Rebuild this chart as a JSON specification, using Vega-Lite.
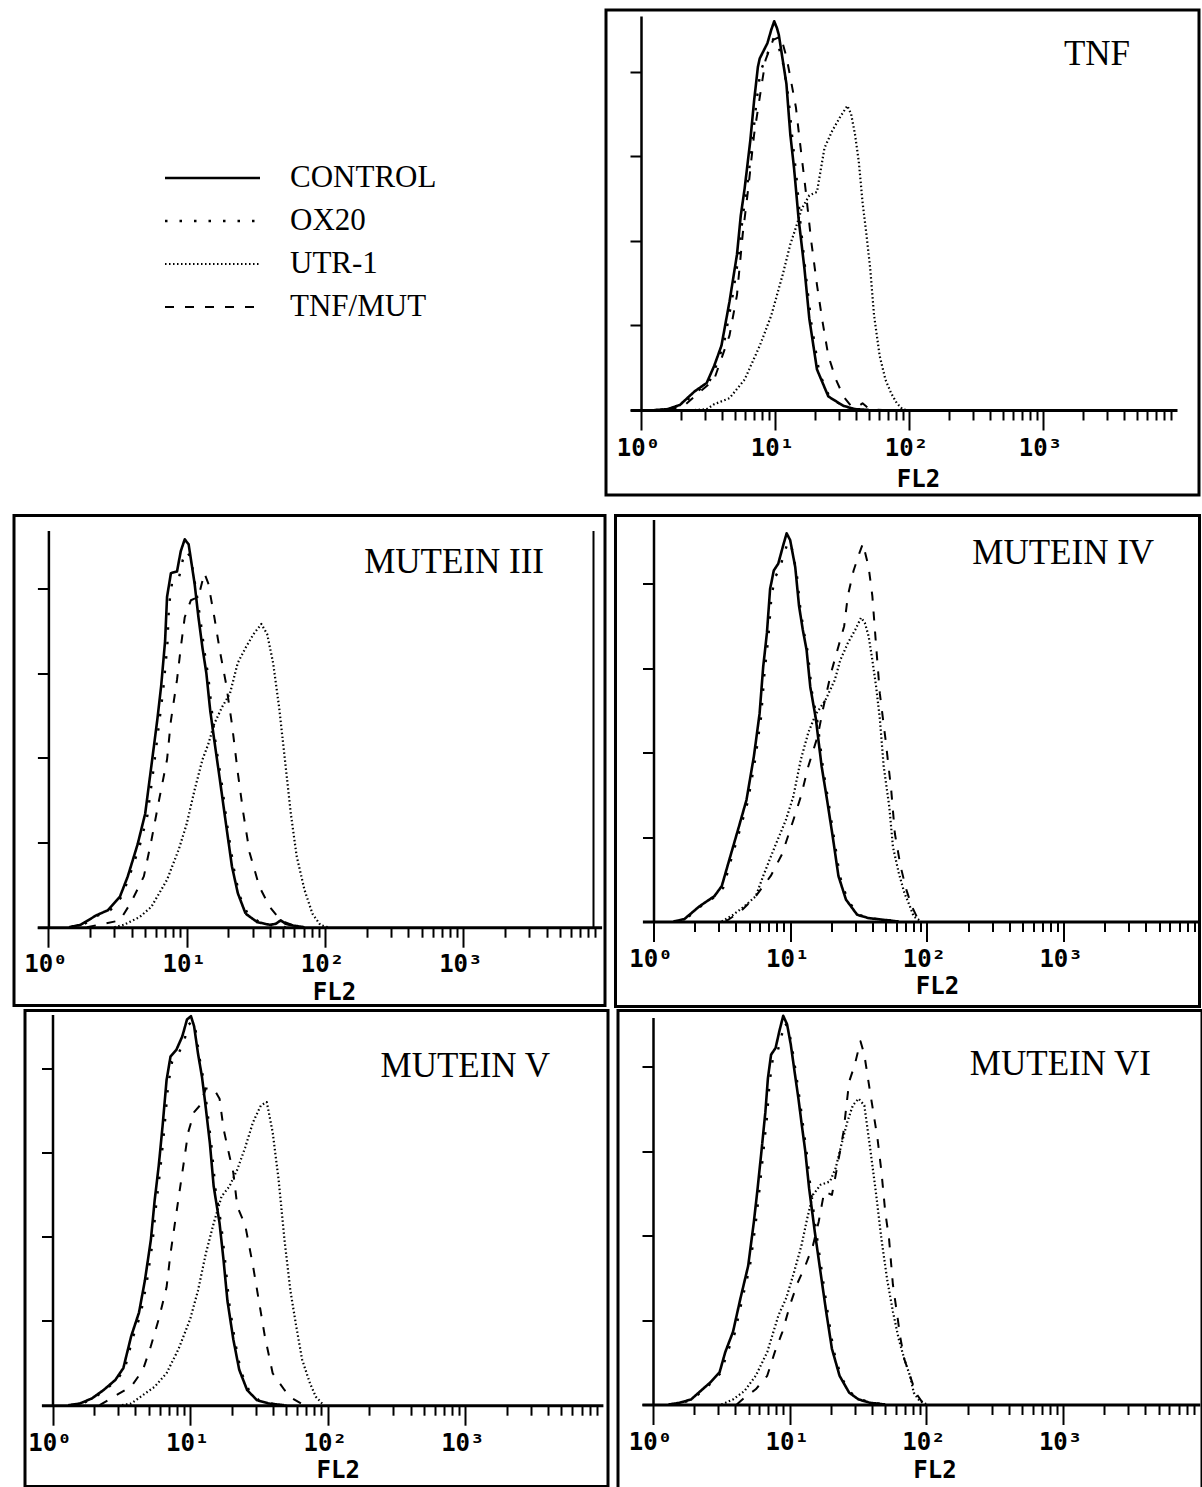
{
"$schema": "https://vega.github.io/schema/vega-lite/v6.json",
"background": "white",
"padding": {"left": 12, "top": 8, "right": 0, "bottom": 0},
"config": {
  "view": {"stroke": null},
  "legend": {"orient": "none", "legendX": 183, "legendY": 152.5, "padding": 0, "symbolType": "M-4.75,0L4.75,0", "symbolSize": 400, "symbolStrokeWidth": 2, "symbolStrokeColor": "black", "symbolFillColor": "transparent", "labelFont": "Liberation Serif", "labelFontSize": 31, "labelColor": "black", "labelOffset": 62, "rowPadding": 11, "labelLimit": 0}
},
"datasets": {"curves": [
{"p":"TNF","s":"CONTROL","x":1.26,"y":0},{"p":"TNF","s":"CONTROL","x":1.58,"y":0.5},{"p":"TNF","s":"CONTROL","x":1.95,"y":3},{"p":"TNF","s":"CONTROL","x":2.51,"y":11},{"p":"TNF","s":"CONTROL","x":3.09,"y":16},{"p":"TNF","s":"CONTROL","x":3.51,"y":26},{"p":"TNF","s":"CONTROL","x":3.98,"y":38},{"p":"TNF","s":"CONTROL","x":4.57,"y":64},{"p":"TNF","s":"CONTROL","x":5.2,"y":92},{"p":"TNF","s":"CONTROL","x":5.55,"y":115},{"p":"TNF","s":"CONTROL","x":5.93,"y":131},{"p":"TNF","s":"CONTROL","x":6.53,"y":159},{"p":"TNF","s":"CONTROL","x":6.98,"y":183},{"p":"TNF","s":"CONTROL","x":7.45,"y":203},{"p":"TNF","s":"CONTROL","x":7.69,"y":208},{"p":"TNF","s":"CONTROL","x":8.77,"y":217},{"p":"TNF","s":"CONTROL","x":9.38,"y":225},{"p":"TNF","s":"CONTROL","x":9.86,"y":230},{"p":"TNF","s":"CONTROL","x":10.33,"y":226},{"p":"TNF","s":"CONTROL","x":10.67,"y":222},{"p":"TNF","s":"CONTROL","x":12.16,"y":193},{"p":"TNF","s":"CONTROL","x":13.0,"y":163},{"p":"TNF","s":"CONTROL","x":13.87,"y":143},{"p":"TNF","s":"CONTROL","x":15.0,"y":113},{"p":"TNF","s":"CONTROL","x":16.56,"y":84},{"p":"TNF","s":"CONTROL","x":18.03,"y":54},{"p":"TNF","s":"CONTROL","x":20.56,"y":24},{"p":"TNF","s":"CONTROL","x":25.0,"y":8},{"p":"TNF","s":"CONTROL","x":32.43,"y":2.4},{"p":"TNF","s":"CONTROL","x":39.81,"y":0.5},{"p":"TNF","s":"CONTROL","x":50.12,"y":0},
{"p":"TNF","s":"OX20","x":1.41,"y":0},{"p":"TNF","s":"OX20","x":2.0,"y":3},{"p":"TNF","s":"OX20","x":2.63,"y":11},{"p":"TNF","s":"OX20","x":3.24,"y":17},{"p":"TNF","s":"OX20","x":3.72,"y":28},{"p":"TNF","s":"OX20","x":4.17,"y":40},{"p":"TNF","s":"OX20","x":4.79,"y":66},{"p":"TNF","s":"OX20","x":5.37,"y":92},{"p":"TNF","s":"OX20","x":5.75,"y":115},{"p":"TNF","s":"OX20","x":6.17,"y":131},{"p":"TNF","s":"OX20","x":6.76,"y":158},{"p":"TNF","s":"OX20","x":7.24,"y":181},{"p":"TNF","s":"OX20","x":7.76,"y":200},{"p":"TNF","s":"OX20","x":8.91,"y":212},{"p":"TNF","s":"OX20","x":9.77,"y":220},{"p":"TNF","s":"OX20","x":10.72,"y":214},{"p":"TNF","s":"OX20","x":11.48,"y":205},{"p":"TNF","s":"OX20","x":12.59,"y":185},{"p":"TNF","s":"OX20","x":13.49,"y":160},{"p":"TNF","s":"OX20","x":14.45,"y":138},{"p":"TNF","s":"OX20","x":15.49,"y":110},{"p":"TNF","s":"OX20","x":16.98,"y":80},{"p":"TNF","s":"OX20","x":18.62,"y":52},{"p":"TNF","s":"OX20","x":21.38,"y":22},{"p":"TNF","s":"OX20","x":25.7,"y":7},{"p":"TNF","s":"OX20","x":33.11,"y":2},{"p":"TNF","s":"OX20","x":41.69,"y":0},
{"p":"TNF","s":"TNF/MUT","x":1.58,"y":0},{"p":"TNF","s":"TNF/MUT","x":2.08,"y":2.4},{"p":"TNF","s":"TNF/MUT","x":3.51,"y":18},{"p":"TNF","s":"TNF/MUT","x":4.57,"y":44},{"p":"TNF","s":"TNF/MUT","x":5.2,"y":68},{"p":"TNF","s":"TNF/MUT","x":5.74,"y":104},{"p":"TNF","s":"TNF/MUT","x":6.31,"y":131},{"p":"TNF","s":"TNF/MUT","x":6.98,"y":163},{"p":"TNF","s":"TNF/MUT","x":7.69,"y":185},{"p":"TNF","s":"TNF/MUT","x":8.49,"y":207},{"p":"TNF","s":"TNF/MUT","x":9.68,"y":219},{"p":"TNF","s":"TNF/MUT","x":11.04,"y":221},{"p":"TNF","s":"TNF/MUT","x":12.16,"y":209},{"p":"TNF","s":"TNF/MUT","x":13.0,"y":197},{"p":"TNF","s":"TNF/MUT","x":14.32,"y":179},{"p":"TNF","s":"TNF/MUT","x":15.31,"y":159},{"p":"TNF","s":"TNF/MUT","x":16.87,"y":131},{"p":"TNF","s":"TNF/MUT","x":18.62,"y":100},{"p":"TNF","s":"TNF/MUT","x":20.56,"y":74},{"p":"TNF","s":"TNF/MUT","x":22.65,"y":52},{"p":"TNF","s":"TNF/MUT","x":25.0,"y":32},{"p":"TNF","s":"TNF/MUT","x":28.51,"y":18},{"p":"TNF","s":"TNF/MUT","x":32.43,"y":8},{"p":"TNF","s":"TNF/MUT","x":36.98,"y":2.4},{"p":"TNF","s":"TNF/MUT","x":41.69,"y":2},{"p":"TNF","s":"TNF/MUT","x":44.98,"y":4},{"p":"TNF","s":"TNF/MUT","x":48.08,"y":2},{"p":"TNF","s":"TNF/MUT","x":51.29,"y":0.4},{"p":"TNF","s":"TNF/MUT","x":63.1,"y":0},
{"p":"TNF","s":"UTR-1","x":2.51,"y":0},{"p":"TNF","s":"UTR-1","x":3.08,"y":0.4},{"p":"TNF","s":"UTR-1","x":3.51,"y":3.4},{"p":"TNF","s":"UTR-1","x":4.57,"y":7},{"p":"TNF","s":"UTR-1","x":5.93,"y":18},{"p":"TNF","s":"UTR-1","x":7.69,"y":38},{"p":"TNF","s":"UTR-1","x":9.38,"y":56},{"p":"TNF","s":"UTR-1","x":11.4,"y":80},{"p":"TNF","s":"UTR-1","x":13.0,"y":98},{"p":"TNF","s":"UTR-1","x":14.32,"y":108},{"p":"TNF","s":"UTR-1","x":15.81,"y":119},{"p":"TNF","s":"UTR-1","x":18.03,"y":127},{"p":"TNF","s":"UTR-1","x":20.56,"y":129},{"p":"TNF","s":"UTR-1","x":23.39,"y":155},{"p":"TNF","s":"UTR-1","x":26.67,"y":165},{"p":"TNF","s":"UTR-1","x":30.41,"y":173},{"p":"TNF","s":"UTR-1","x":34.67,"y":180},{"p":"TNF","s":"UTR-1","x":36.98,"y":175},{"p":"TNF","s":"UTR-1","x":39.54,"y":163},{"p":"TNF","s":"UTR-1","x":42.17,"y":147},{"p":"TNF","s":"UTR-1","x":44.98,"y":123},{"p":"TNF","s":"UTR-1","x":48.08,"y":104},{"p":"TNF","s":"UTR-1","x":51.29,"y":84},{"p":"TNF","s":"UTR-1","x":54.83,"y":56},{"p":"TNF","s":"UTR-1","x":60.39,"y":32},{"p":"TNF","s":"UTR-1","x":66.68,"y":18},{"p":"TNF","s":"UTR-1","x":73.45,"y":10},{"p":"TNF","s":"UTR-1","x":81.1,"y":4},{"p":"TNF","s":"UTR-1","x":89.54,"y":0.4},{"p":"TNF","s":"UTR-1","x":97.72,"y":0},

{"p":"III","s":"CONTROL","x":1.41,"y":0},{"p":"III","s":"CONTROL","x":1.71,"y":1.4},{"p":"III","s":"CONTROL","x":2.22,"y":7},{"p":"III","s":"CONTROL","x":2.69,"y":10},{"p":"III","s":"CONTROL","x":3.29,"y":18},{"p":"III","s":"CONTROL","x":3.75,"y":30},{"p":"III","s":"CONTROL","x":4.42,"y":49},{"p":"III","s":"CONTROL","x":5.01,"y":67},{"p":"III","s":"CONTROL","x":5.55,"y":95},{"p":"III","s":"CONTROL","x":6.12,"y":122},{"p":"III","s":"CONTROL","x":6.53,"y":142},{"p":"III","s":"CONTROL","x":6.98,"y":169},{"p":"III","s":"CONTROL","x":7.21,"y":195},{"p":"III","s":"CONTROL","x":7.69,"y":209},{"p":"III","s":"CONTROL","x":8.51,"y":210},{"p":"III","s":"CONTROL","x":9.06,"y":222},{"p":"III","s":"CONTROL","x":9.68,"y":229},{"p":"III","s":"CONTROL","x":10.33,"y":226},{"p":"III","s":"CONTROL","x":11.4,"y":203},{"p":"III","s":"CONTROL","x":12.16,"y":183},{"p":"III","s":"CONTROL","x":13.0,"y":165},{"p":"III","s":"CONTROL","x":13.87,"y":150},{"p":"III","s":"CONTROL","x":14.79,"y":128},{"p":"III","s":"CONTROL","x":15.85,"y":110},{"p":"III","s":"CONTROL","x":17.38,"y":87},{"p":"III","s":"CONTROL","x":19.23,"y":61},{"p":"III","s":"CONTROL","x":21.23,"y":36},{"p":"III","s":"CONTROL","x":23.44,"y":20},{"p":"III","s":"CONTROL","x":26.67,"y":8},{"p":"III","s":"CONTROL","x":32.36,"y":3},{"p":"III","s":"CONTROL","x":39.81,"y":1.4},{"p":"III","s":"CONTROL","x":44.0,"y":2},{"p":"III","s":"CONTROL","x":47.86,"y":4},{"p":"III","s":"CONTROL","x":52.0,"y":2},{"p":"III","s":"CONTROL","x":58.88,"y":1},{"p":"III","s":"CONTROL","x":70.79,"y":0},
{"p":"III","s":"OX20","x":1.45,"y":0},{"p":"III","s":"OX20","x":1.78,"y":1.4},{"p":"III","s":"OX20","x":2.29,"y":7},{"p":"III","s":"OX20","x":2.8,"y":10},{"p":"III","s":"OX20","x":3.39,"y":18},{"p":"III","s":"OX20","x":3.85,"y":30},{"p":"III","s":"OX20","x":4.57,"y":48},{"p":"III","s":"OX20","x":5.2,"y":66},{"p":"III","s":"OX20","x":5.75,"y":93},{"p":"III","s":"OX20","x":6.31,"y":120},{"p":"III","s":"OX20","x":6.76,"y":140},{"p":"III","s":"OX20","x":7.24,"y":166},{"p":"III","s":"OX20","x":7.45,"y":190},{"p":"III","s":"OX20","x":7.89,"y":205},{"p":"III","s":"OX20","x":8.83,"y":207},{"p":"III","s":"OX20","x":9.38,"y":217},{"p":"III","s":"OX20","x":10.0,"y":222},{"p":"III","s":"OX20","x":10.72,"y":218},{"p":"III","s":"OX20","x":11.64,"y":200},{"p":"III","s":"OX20","x":12.59,"y":181},{"p":"III","s":"OX20","x":13.43,"y":163},{"p":"III","s":"OX20","x":14.32,"y":148},{"p":"III","s":"OX20","x":15.28,"y":126},{"p":"III","s":"OX20","x":16.22,"y":108},{"p":"III","s":"OX20","x":17.91,"y":85},{"p":"III","s":"OX20","x":19.72,"y":59},{"p":"III","s":"OX20","x":21.88,"y":35},{"p":"III","s":"OX20","x":24.0,"y":19},{"p":"III","s":"OX20","x":27.54,"y":8},{"p":"III","s":"OX20","x":33.5,"y":3},{"p":"III","s":"OX20","x":41.69,"y":1},{"p":"III","s":"OX20","x":52.0,"y":0},
{"p":"III","s":"TNF/MUT","x":1.9,"y":0},{"p":"III","s":"TNF/MUT","x":3.29,"y":4},{"p":"III","s":"TNF/MUT","x":3.98,"y":15},{"p":"III","s":"TNF/MUT","x":4.9,"y":30},{"p":"III","s":"TNF/MUT","x":5.55,"y":51},{"p":"III","s":"TNF/MUT","x":6.31,"y":75},{"p":"III","s":"TNF/MUT","x":7.21,"y":99},{"p":"III","s":"TNF/MUT","x":7.69,"y":122},{"p":"III","s":"TNF/MUT","x":8.51,"y":146},{"p":"III","s":"TNF/MUT","x":9.06,"y":165},{"p":"III","s":"TNF/MUT","x":9.68,"y":183},{"p":"III","s":"TNF/MUT","x":10.72,"y":193},{"p":"III","s":"TNF/MUT","x":12.16,"y":195},{"p":"III","s":"TNF/MUT","x":13.43,"y":209},{"p":"III","s":"TNF/MUT","x":14.32,"y":203},{"p":"III","s":"TNF/MUT","x":15.85,"y":183},{"p":"III","s":"TNF/MUT","x":17.38,"y":163},{"p":"III","s":"TNF/MUT","x":19.23,"y":144},{"p":"III","s":"TNF/MUT","x":21.23,"y":120},{"p":"III","s":"TNF/MUT","x":23.44,"y":91},{"p":"III","s":"TNF/MUT","x":25.7,"y":67},{"p":"III","s":"TNF/MUT","x":28.51,"y":44},{"p":"III","s":"TNF/MUT","x":33.5,"y":24},{"p":"III","s":"TNF/MUT","x":39.81,"y":12},{"p":"III","s":"TNF/MUT","x":47.86,"y":4},{"p":"III","s":"TNF/MUT","x":58.88,"y":1},{"p":"III","s":"TNF/MUT","x":70.79,"y":0},
{"p":"III","s":"UTR-1","x":3.0,"y":0},{"p":"III","s":"UTR-1","x":3.51,"y":1.4},{"p":"III","s":"UTR-1","x":4.57,"y":6},{"p":"III","s":"UTR-1","x":5.55,"y":12},{"p":"III","s":"UTR-1","x":7.21,"y":28},{"p":"III","s":"UTR-1","x":8.77,"y":46},{"p":"III","s":"UTR-1","x":10.0,"y":61},{"p":"III","s":"UTR-1","x":11.4,"y":81},{"p":"III","s":"UTR-1","x":13.0,"y":99},{"p":"III","s":"UTR-1","x":14.32,"y":108},{"p":"III","s":"UTR-1","x":15.81,"y":120},{"p":"III","s":"UTR-1","x":18.03,"y":130},{"p":"III","s":"UTR-1","x":20.56,"y":138},{"p":"III","s":"UTR-1","x":23.39,"y":156},{"p":"III","s":"UTR-1","x":26.67,"y":165},{"p":"III","s":"UTR-1","x":30.41,"y":173},{"p":"III","s":"UTR-1","x":34.67,"y":179},{"p":"III","s":"UTR-1","x":38.2,"y":173},{"p":"III","s":"UTR-1","x":42.17,"y":156},{"p":"III","s":"UTR-1","x":46.56,"y":130},{"p":"III","s":"UTR-1","x":51.29,"y":99},{"p":"III","s":"UTR-1","x":56.62,"y":67},{"p":"III","s":"UTR-1","x":62.37,"y":42},{"p":"III","s":"UTR-1","x":71.1,"y":22},{"p":"III","s":"UTR-1","x":81.1,"y":8},{"p":"III","s":"UTR-1","x":92.47,"y":1.4},{"p":"III","s":"UTR-1","x":104.7,"y":0},

{"p":"IV","s":"CONTROL","x":1.4,"y":0},{"p":"IV","s":"CONTROL","x":1.68,"y":1.4},{"p":"IV","s":"CONTROL","x":2.17,"y":9},{"p":"IV","s":"CONTROL","x":2.79,"y":15},{"p":"IV","s":"CONTROL","x":3.16,"y":21},{"p":"IV","s":"CONTROL","x":3.6,"y":37},{"p":"IV","s":"CONTROL","x":4.21,"y":56},{"p":"IV","s":"CONTROL","x":4.79,"y":72},{"p":"IV","s":"CONTROL","x":5.43,"y":98},{"p":"IV","s":"CONTROL","x":5.97,"y":123},{"p":"IV","s":"CONTROL","x":6.35,"y":151},{"p":"IV","s":"CONTROL","x":6.76,"y":171},{"p":"IV","s":"CONTROL","x":7.13,"y":197},{"p":"IV","s":"CONTROL","x":7.59,"y":208},{"p":"IV","s":"CONTROL","x":8.18,"y":212},{"p":"IV","s":"CONTROL","x":8.83,"y":222},{"p":"IV","s":"CONTROL","x":9.42,"y":230},{"p":"IV","s":"CONTROL","x":10.0,"y":226},{"p":"IV","s":"CONTROL","x":10.89,"y":210},{"p":"IV","s":"CONTROL","x":11.61,"y":187},{"p":"IV","s":"CONTROL","x":12.36,"y":173},{"p":"IV","s":"CONTROL","x":13.18,"y":161},{"p":"IV","s":"CONTROL","x":14.03,"y":139},{"p":"IV","s":"CONTROL","x":15.42,"y":120},{"p":"IV","s":"CONTROL","x":16.98,"y":92},{"p":"IV","s":"CONTROL","x":18.62,"y":72},{"p":"IV","s":"CONTROL","x":20.5,"y":50},{"p":"IV","s":"CONTROL","x":22.54,"y":27},{"p":"IV","s":"CONTROL","x":25.59,"y":13},{"p":"IV","s":"CONTROL","x":30.9,"y":4},{"p":"IV","s":"CONTROL","x":37.5,"y":2},{"p":"IV","s":"CONTROL","x":48.31,"y":1},{"p":"IV","s":"CONTROL","x":62.2,"y":0},
{"p":"IV","s":"OX20","x":1.45,"y":0},{"p":"IV","s":"OX20","x":1.72,"y":1.4},{"p":"IV","s":"OX20","x":2.22,"y":9},{"p":"IV","s":"OX20","x":2.86,"y":15},{"p":"IV","s":"OX20","x":3.24,"y":20},{"p":"IV","s":"OX20","x":3.68,"y":36},{"p":"IV","s":"OX20","x":4.31,"y":55},{"p":"IV","s":"OX20","x":4.9,"y":71},{"p":"IV","s":"OX20","x":5.55,"y":96},{"p":"IV","s":"OX20","x":6.12,"y":121},{"p":"IV","s":"OX20","x":6.5,"y":148},{"p":"IV","s":"OX20","x":6.92,"y":168},{"p":"IV","s":"OX20","x":7.3,"y":193},{"p":"IV","s":"OX20","x":7.76,"y":204},{"p":"IV","s":"OX20","x":8.37,"y":209},{"p":"IV","s":"OX20","x":9.04,"y":218},{"p":"IV","s":"OX20","x":9.64,"y":225},{"p":"IV","s":"OX20","x":10.23,"y":222},{"p":"IV","s":"OX20","x":11.14,"y":207},{"p":"IV","s":"OX20","x":11.88,"y":185},{"p":"IV","s":"OX20","x":12.65,"y":171},{"p":"IV","s":"OX20","x":13.49,"y":159},{"p":"IV","s":"OX20","x":14.36,"y":137},{"p":"IV","s":"OX20","x":15.78,"y":119},{"p":"IV","s":"OX20","x":17.38,"y":91},{"p":"IV","s":"OX20","x":19.05,"y":71},{"p":"IV","s":"OX20","x":20.98,"y":49},{"p":"IV","s":"OX20","x":23.07,"y":27},{"p":"IV","s":"OX20","x":26.2,"y":13},{"p":"IV","s":"OX20","x":31.6,"y":4},{"p":"IV","s":"OX20","x":38.4,"y":2},{"p":"IV","s":"OX20","x":49.4,"y":1},{"p":"IV","s":"OX20","x":63.7,"y":0},
{"p":"IV","s":"UTR-1","x":3.16,"y":0},{"p":"IV","s":"UTR-1","x":3.83,"y":4},{"p":"IV","s":"UTR-1","x":4.63,"y":9},{"p":"IV","s":"UTR-1","x":5.6,"y":15},{"p":"IV","s":"UTR-1","x":6.35,"y":27},{"p":"IV","s":"UTR-1","x":7.69,"y":44},{"p":"IV","s":"UTR-1","x":9.29,"y":60},{"p":"IV","s":"UTR-1","x":10.54,"y":74},{"p":"IV","s":"UTR-1","x":11.97,"y":96},{"p":"IV","s":"UTR-1","x":13.58,"y":112},{"p":"IV","s":"UTR-1","x":15.42,"y":123},{"p":"IV","s":"UTR-1","x":18.07,"y":131},{"p":"IV","s":"UTR-1","x":21.18,"y":143},{"p":"IV","s":"UTR-1","x":23.28,"y":155},{"p":"IV","s":"UTR-1","x":26.42,"y":165},{"p":"IV","s":"UTR-1","x":29.99,"y":173},{"p":"IV","s":"UTR-1","x":33.0,"y":180},{"p":"IV","s":"UTR-1","x":35.16,"y":177},{"p":"IV","s":"UTR-1","x":37.5,"y":169},{"p":"IV","s":"UTR-1","x":39.9,"y":155},{"p":"IV","s":"UTR-1","x":42.56,"y":139},{"p":"IV","s":"UTR-1","x":45.29,"y":120},{"p":"IV","s":"UTR-1","x":48.31,"y":92},{"p":"IV","s":"UTR-1","x":53.09,"y":68},{"p":"IV","s":"UTR-1","x":56.5,"y":44},{"p":"IV","s":"UTR-1","x":62.2,"y":29},{"p":"IV","s":"UTR-1","x":68.39,"y":17},{"p":"IV","s":"UTR-1","x":75.16,"y":9},{"p":"IV","s":"UTR-1","x":80.1,"y":3},{"p":"IV","s":"UTR-1","x":91.0,"y":0},
{"p":"IV","s":"TNF/MUT","x":3.37,"y":0},{"p":"IV","s":"TNF/MUT","x":4.35,"y":6},{"p":"IV","s":"TNF/MUT","x":5.6,"y":15},{"p":"IV","s":"TNF/MUT","x":7.21,"y":27},{"p":"IV","s":"TNF/MUT","x":8.73,"y":40},{"p":"IV","s":"TNF/MUT","x":10.54,"y":60},{"p":"IV","s":"TNF/MUT","x":11.97,"y":74},{"p":"IV","s":"TNF/MUT","x":13.58,"y":92},{"p":"IV","s":"TNF/MUT","x":15.92,"y":110},{"p":"IV","s":"TNF/MUT","x":17.5,"y":127},{"p":"IV","s":"TNF/MUT","x":19.86,"y":147},{"p":"IV","s":"TNF/MUT","x":22.54,"y":163},{"p":"IV","s":"TNF/MUT","x":24.83,"y":175},{"p":"IV","s":"TNF/MUT","x":26.42,"y":193},{"p":"IV","s":"TNF/MUT","x":29.11,"y":208},{"p":"IV","s":"TNF/MUT","x":31.99,"y":218},{"p":"IV","s":"TNF/MUT","x":34.04,"y":224},{"p":"IV","s":"TNF/MUT","x":37.5,"y":210},{"p":"IV","s":"TNF/MUT","x":39.9,"y":193},{"p":"IV","s":"TNF/MUT","x":42.56,"y":163},{"p":"IV","s":"TNF/MUT","x":45.29,"y":135},{"p":"IV","s":"TNF/MUT","x":49.8,"y":108},{"p":"IV","s":"TNF/MUT","x":54.83,"y":78},{"p":"IV","s":"TNF/MUT","x":58.34,"y":52},{"p":"IV","s":"TNF/MUT","x":64.1,"y":33},{"p":"IV","s":"TNF/MUT","x":70.6,"y":19},{"p":"IV","s":"TNF/MUT","x":77.62,"y":9},{"p":"IV","s":"TNF/MUT","x":85.3,"y":2},{"p":"IV","s":"TNF/MUT","x":96.8,"y":0},

{"p":"V","s":"CONTROL","x":1.3,"y":0},{"p":"V","s":"CONTROL","x":1.58,"y":1},{"p":"V","s":"CONTROL","x":1.93,"y":4},{"p":"V","s":"CONTROL","x":2.35,"y":9},{"p":"V","s":"CONTROL","x":2.86,"y":15},{"p":"V","s":"CONTROL","x":3.27,"y":22},{"p":"V","s":"CONTROL","x":3.73,"y":41},{"p":"V","s":"CONTROL","x":4.25,"y":55},{"p":"V","s":"CONTROL","x":4.69,"y":74},{"p":"V","s":"CONTROL","x":5.18,"y":98},{"p":"V","s":"CONTROL","x":5.53,"y":122},{"p":"V","s":"CONTROL","x":5.91,"y":142},{"p":"V","s":"CONTROL","x":6.31,"y":166},{"p":"V","s":"CONTROL","x":6.74,"y":193},{"p":"V","s":"CONTROL","x":7.2,"y":207},{"p":"V","s":"CONTROL","x":7.94,"y":211},{"p":"V","s":"CONTROL","x":8.77,"y":219},{"p":"V","s":"CONTROL","x":9.49,"y":229},{"p":"V","s":"CONTROL","x":10.14,"y":231},{"p":"V","s":"CONTROL","x":10.69,"y":225},{"p":"V","s":"CONTROL","x":11.4,"y":209},{"p":"V","s":"CONTROL","x":12.19,"y":195},{"p":"V","s":"CONTROL","x":12.85,"y":180},{"p":"V","s":"CONTROL","x":13.9,"y":156},{"p":"V","s":"CONTROL","x":14.83,"y":130},{"p":"V","s":"CONTROL","x":16.37,"y":108},{"p":"V","s":"CONTROL","x":17.5,"y":86},{"p":"V","s":"CONTROL","x":18.67,"y":62},{"p":"V","s":"CONTROL","x":20.61,"y":39},{"p":"V","s":"CONTROL","x":22.75,"y":21},{"p":"V","s":"CONTROL","x":25.96,"y":9},{"p":"V","s":"CONTROL","x":30.6,"y":3},{"p":"V","s":"CONTROL","x":37.27,"y":1},{"p":"V","s":"CONTROL","x":48.53,"y":0},
{"p":"V","s":"OX20","x":1.35,"y":0},{"p":"V","s":"OX20","x":1.63,"y":1},{"p":"V","s":"OX20","x":1.98,"y":4},{"p":"V","s":"OX20","x":2.41,"y":9},{"p":"V","s":"OX20","x":2.94,"y":15},{"p":"V","s":"OX20","x":3.36,"y":22},{"p":"V","s":"OX20","x":3.83,"y":40},{"p":"V","s":"OX20","x":4.37,"y":54},{"p":"V","s":"OX20","x":4.82,"y":72},{"p":"V","s":"OX20","x":5.32,"y":96},{"p":"V","s":"OX20","x":5.68,"y":120},{"p":"V","s":"OX20","x":6.07,"y":140},{"p":"V","s":"OX20","x":6.49,"y":164},{"p":"V","s":"OX20","x":6.92,"y":190},{"p":"V","s":"OX20","x":7.4,"y":204},{"p":"V","s":"OX20","x":8.16,"y":208},{"p":"V","s":"OX20","x":9.02,"y":216},{"p":"V","s":"OX20","x":9.75,"y":226},{"p":"V","s":"OX20","x":10.42,"y":228},{"p":"V","s":"OX20","x":10.99,"y":222},{"p":"V","s":"OX20","x":11.72,"y":206},{"p":"V","s":"OX20","x":12.53,"y":193},{"p":"V","s":"OX20","x":13.2,"y":178},{"p":"V","s":"OX20","x":14.29,"y":154},{"p":"V","s":"OX20","x":15.24,"y":129},{"p":"V","s":"OX20","x":16.83,"y":107},{"p":"V","s":"OX20","x":17.99,"y":85},{"p":"V","s":"OX20","x":19.19,"y":61},{"p":"V","s":"OX20","x":21.18,"y":38},{"p":"V","s":"OX20","x":23.39,"y":20},{"p":"V","s":"OX20","x":26.7,"y":9},{"p":"V","s":"OX20","x":31.5,"y":3},{"p":"V","s":"OX20","x":38.3,"y":1},{"p":"V","s":"OX20","x":50.0,"y":0},
{"p":"V","s":"TNF/MUT","x":2.2,"y":0},{"p":"V","s":"TNF/MUT","x":3.06,"y":7},{"p":"V","s":"TNF/MUT","x":3.73,"y":11},{"p":"V","s":"TNF/MUT","x":4.54,"y":21},{"p":"V","s":"TNF/MUT","x":5.18,"y":35},{"p":"V","s":"TNF/MUT","x":5.91,"y":51},{"p":"V","s":"TNF/MUT","x":6.74,"y":70},{"p":"V","s":"TNF/MUT","x":7.2,"y":90},{"p":"V","s":"TNF/MUT","x":7.94,"y":114},{"p":"V","s":"TNF/MUT","x":8.77,"y":138},{"p":"V","s":"TNF/MUT","x":9.68,"y":162},{"p":"V","s":"TNF/MUT","x":10.69,"y":174},{"p":"V","s":"TNF/MUT","x":11.78,"y":178},{"p":"V","s":"TNF/MUT","x":13.0,"y":188},{"p":"V","s":"TNF/MUT","x":14.83,"y":188},{"p":"V","s":"TNF/MUT","x":16.37,"y":182},{"p":"V","s":"TNF/MUT","x":17.5,"y":164},{"p":"V","s":"TNF/MUT","x":19.32,"y":148},{"p":"V","s":"TNF/MUT","x":20.61,"y":138},{"p":"V","s":"TNF/MUT","x":22.03,"y":118},{"p":"V","s":"TNF/MUT","x":25.12,"y":107},{"p":"V","s":"TNF/MUT","x":28.6,"y":83},{"p":"V","s":"TNF/MUT","x":31.6,"y":62},{"p":"V","s":"TNF/MUT","x":34.9,"y":41},{"p":"V","s":"TNF/MUT","x":39.8,"y":19},{"p":"V","s":"TNF/MUT","x":48.53,"y":9},{"p":"V","s":"TNF/MUT","x":55.3,"y":4},{"p":"V","s":"TNF/MUT","x":67.4,"y":0},
{"p":"V","s":"UTR-1","x":3.2,"y":0},{"p":"V","s":"UTR-1","x":3.73,"y":1},{"p":"V","s":"UTR-1","x":4.54,"y":6},{"p":"V","s":"UTR-1","x":5.53,"y":11},{"p":"V","s":"UTR-1","x":6.74,"y":19},{"p":"V","s":"UTR-1","x":8.2,"y":33},{"p":"V","s":"UTR-1","x":10.0,"y":51},{"p":"V","s":"UTR-1","x":11.4,"y":68},{"p":"V","s":"UTR-1","x":13.0,"y":90},{"p":"V","s":"UTR-1","x":14.83,"y":108},{"p":"V","s":"UTR-1","x":16.93,"y":124},{"p":"V","s":"UTR-1","x":19.32,"y":130},{"p":"V","s":"UTR-1","x":22.03,"y":140},{"p":"V","s":"UTR-1","x":25.12,"y":153},{"p":"V","s":"UTR-1","x":28.64,"y":168},{"p":"V","s":"UTR-1","x":32.66,"y":178},{"p":"V","s":"UTR-1","x":36.06,"y":180},{"p":"V","s":"UTR-1","x":39.81,"y":162},{"p":"V","s":"UTR-1","x":43.95,"y":134},{"p":"V","s":"UTR-1","x":48.53,"y":98},{"p":"V","s":"UTR-1","x":53.55,"y":68},{"p":"V","s":"UTR-1","x":59.0,"y":47},{"p":"V","s":"UTR-1","x":65.2,"y":27},{"p":"V","s":"UTR-1","x":74.3,"y":13},{"p":"V","s":"UTR-1","x":82.0,"y":5},{"p":"V","s":"UTR-1","x":93.5,"y":0},

{"p":"VI","s":"CONTROL","x":1.3,"y":0},{"p":"VI","s":"CONTROL","x":1.57,"y":1},{"p":"VI","s":"CONTROL","x":1.9,"y":3},{"p":"VI","s":"CONTROL","x":2.16,"y":7},{"p":"VI","s":"CONTROL","x":2.62,"y":13},{"p":"VI","s":"CONTROL","x":3.07,"y":19},{"p":"VI","s":"CONTROL","x":3.38,"y":31},{"p":"VI","s":"CONTROL","x":3.85,"y":43},{"p":"VI","s":"CONTROL","x":4.37,"y":63},{"p":"VI","s":"CONTROL","x":4.97,"y":82},{"p":"VI","s":"CONTROL","x":5.47,"y":108},{"p":"VI","s":"CONTROL","x":5.83,"y":128},{"p":"VI","s":"CONTROL","x":6.22,"y":150},{"p":"VI","s":"CONTROL","x":6.64,"y":173},{"p":"VI","s":"CONTROL","x":6.93,"y":193},{"p":"VI","s":"CONTROL","x":7.31,"y":207},{"p":"VI","s":"CONTROL","x":7.89,"y":211},{"p":"VI","s":"CONTROL","x":8.41,"y":221},{"p":"VI","s":"CONTROL","x":8.97,"y":230},{"p":"VI","s":"CONTROL","x":9.57,"y":225},{"p":"VI","s":"CONTROL","x":10.19,"y":213},{"p":"VI","s":"CONTROL","x":10.86,"y":197},{"p":"VI","s":"CONTROL","x":11.59,"y":181},{"p":"VI","s":"CONTROL","x":12.19,"y":167},{"p":"VI","s":"CONTROL","x":13.0,"y":150},{"p":"VI","s":"CONTROL","x":13.87,"y":128},{"p":"VI","s":"CONTROL","x":15.28,"y":102},{"p":"VI","s":"CONTROL","x":16.83,"y":78},{"p":"VI","s":"CONTROL","x":18.49,"y":55},{"p":"VI","s":"CONTROL","x":20.37,"y":33},{"p":"VI","s":"CONTROL","x":23.17,"y":17},{"p":"VI","s":"CONTROL","x":27.23,"y":7},{"p":"VI","s":"CONTROL","x":31.92,"y":3},{"p":"VI","s":"CONTROL","x":38.73,"y":1},{"p":"VI","s":"CONTROL","x":50.0,"y":0},
{"p":"VI","s":"OX20","x":1.35,"y":0},{"p":"VI","s":"OX20","x":1.62,"y":1},{"p":"VI","s":"OX20","x":1.95,"y":3},{"p":"VI","s":"OX20","x":2.22,"y":7},{"p":"VI","s":"OX20","x":2.69,"y":13},{"p":"VI","s":"OX20","x":3.16,"y":19},{"p":"VI","s":"OX20","x":3.47,"y":30},{"p":"VI","s":"OX20","x":3.96,"y":42},{"p":"VI","s":"OX20","x":4.49,"y":62},{"p":"VI","s":"OX20","x":5.1,"y":81},{"p":"VI","s":"OX20","x":5.62,"y":106},{"p":"VI","s":"OX20","x":5.99,"y":126},{"p":"VI","s":"OX20","x":6.39,"y":148},{"p":"VI","s":"OX20","x":6.82,"y":170},{"p":"VI","s":"OX20","x":7.12,"y":190},{"p":"VI","s":"OX20","x":7.51,"y":204},{"p":"VI","s":"OX20","x":8.11,"y":208},{"p":"VI","s":"OX20","x":8.65,"y":217},{"p":"VI","s":"OX20","x":9.22,"y":226},{"p":"VI","s":"OX20","x":9.84,"y":222},{"p":"VI","s":"OX20","x":10.47,"y":210},{"p":"VI","s":"OX20","x":11.16,"y":195},{"p":"VI","s":"OX20","x":11.91,"y":179},{"p":"VI","s":"OX20","x":12.53,"y":165},{"p":"VI","s":"OX20","x":13.36,"y":148},{"p":"VI","s":"OX20","x":14.26,"y":127},{"p":"VI","s":"OX20","x":15.71,"y":101},{"p":"VI","s":"OX20","x":17.3,"y":77},{"p":"VI","s":"OX20","x":19.0,"y":54},{"p":"VI","s":"OX20","x":20.94,"y":32},{"p":"VI","s":"OX20","x":23.82,"y":16},{"p":"VI","s":"OX20","x":28.0,"y":7},{"p":"VI","s":"OX20","x":32.8,"y":3},{"p":"VI","s":"OX20","x":39.8,"y":1},{"p":"VI","s":"OX20","x":51.4,"y":0},
{"p":"VI","s":"UTR-1","x":3.17,"y":0},{"p":"VI","s":"UTR-1","x":3.85,"y":3},{"p":"VI","s":"UTR-1","x":4.67,"y":8},{"p":"VI","s":"UTR-1","x":5.65,"y":17},{"p":"VI","s":"UTR-1","x":6.85,"y":31},{"p":"VI","s":"UTR-1","x":8.3,"y":53},{"p":"VI","s":"UTR-1","x":9.44,"y":63},{"p":"VI","s":"UTR-1","x":10.74,"y":78},{"p":"VI","s":"UTR-1","x":12.19,"y":94},{"p":"VI","s":"UTR-1","x":13.43,"y":110},{"p":"VI","s":"UTR-1","x":14.79,"y":124},{"p":"VI","s":"UTR-1","x":16.83,"y":130},{"p":"VI","s":"UTR-1","x":19.72,"y":132},{"p":"VI","s":"UTR-1","x":21.73,"y":140},{"p":"VI","s":"UTR-1","x":23.93,"y":154},{"p":"VI","s":"UTR-1","x":26.36,"y":167},{"p":"VI","s":"UTR-1","x":28.97,"y":177},{"p":"VI","s":"UTR-1","x":31.92,"y":181},{"p":"VI","s":"UTR-1","x":35.16,"y":177},{"p":"VI","s":"UTR-1","x":38.73,"y":152},{"p":"VI","s":"UTR-1","x":42.66,"y":126},{"p":"VI","s":"UTR-1","x":46.88,"y":98},{"p":"VI","s":"UTR-1","x":51.64,"y":74},{"p":"VI","s":"UTR-1","x":56.89,"y":55},{"p":"VI","s":"UTR-1","x":62.66,"y":39},{"p":"VI","s":"UTR-1","x":68.87,"y":27},{"p":"VI","s":"UTR-1","x":75.86,"y":17},{"p":"VI","s":"UTR-1","x":80.91,"y":7},{"p":"VI","s":"UTR-1","x":89.13,"y":2},{"p":"VI","s":"UTR-1","x":101.4,"y":0},
{"p":"VI","s":"TNF/MUT","x":4.1,"y":0},{"p":"VI","s":"TNF/MUT","x":4.67,"y":4},{"p":"VI","s":"TNF/MUT","x":5.65,"y":9},{"p":"VI","s":"TNF/MUT","x":6.85,"y":17},{"p":"VI","s":"TNF/MUT","x":7.78,"y":31},{"p":"VI","s":"TNF/MUT","x":8.85,"y":43},{"p":"VI","s":"TNF/MUT","x":10.07,"y":59},{"p":"VI","s":"TNF/MUT","x":11.43,"y":72},{"p":"VI","s":"TNF/MUT","x":13.0,"y":82},{"p":"VI","s":"TNF/MUT","x":14.79,"y":94},{"p":"VI","s":"TNF/MUT","x":16.29,"y":108},{"p":"VI","s":"TNF/MUT","x":17.91,"y":126},{"p":"VI","s":"TNF/MUT","x":20.37,"y":124},{"p":"VI","s":"TNF/MUT","x":22.44,"y":142},{"p":"VI","s":"TNF/MUT","x":24.72,"y":161},{"p":"VI","s":"TNF/MUT","x":27.23,"y":191},{"p":"VI","s":"TNF/MUT","x":29.92,"y":201},{"p":"VI","s":"TNF/MUT","x":32.96,"y":215},{"p":"VI","s":"TNF/MUT","x":35.16,"y":207},{"p":"VI","s":"TNF/MUT","x":38.73,"y":185},{"p":"VI","s":"TNF/MUT","x":41.3,"y":171},{"p":"VI","s":"TNF/MUT","x":43.95,"y":157},{"p":"VI","s":"TNF/MUT","x":46.88,"y":138},{"p":"VI","s":"TNF/MUT","x":50.0,"y":114},{"p":"VI","s":"TNF/MUT","x":53.33,"y":98},{"p":"VI","s":"TNF/MUT","x":56.89,"y":71},{"p":"VI","s":"TNF/MUT","x":60.67,"y":55},{"p":"VI","s":"TNF/MUT","x":64.7,"y":39},{"p":"VI","s":"TNF/MUT","x":68.87,"y":27},{"p":"VI","s":"TNF/MUT","x":75.86,"y":17},{"p":"VI","s":"TNF/MUT","x":83.56,"y":7},{"p":"VI","s":"TNF/MUT","x":92.04,"y":2},{"p":"VI","s":"TNF/MUT","x":101.4,"y":0}
]},
"spacing": 16.5,
"resolve": {"scale": {"x": "independent", "y": "independent"}},
"vconcat": [
 {"spacing": 12, "bounds": "flush", "resolve": {"scale": {"x": "independent", "y": "independent"}}, "hconcat": [
  {"width": 580, "height": 485, "data": {"values": [{"a": 0}]}, "mark": {"type": "text", "text": ""}},
  {"width": 593, "height": 485, "view": {"stroke": "black", "strokeWidth": 3},
   "title": {"text": "TNF", "anchor": "end", "frame": "group", "orient": "top", "offset": -90, "dx": -69, "baseline": "alphabetic", "font": "Liberation Serif", "fontSize": 35, "fontWeight": "normal", "color": "black"},
   "data": {"name": "curves"}, "transform": [{"filter": "datum.p == 'TNF'"}],
   "mark": {"type": "line", "stroke": "black", "strokeJoin": "round"},
   "encoding": {
    "x": {"field": "x", "type": "quantitative", "scale": {"type": "log", "domain": [0.83, 10000], "range": [24.2, 571]},
      "axis": {"offset": -85, "titleX": 312, "titleY": 76, "values": [1,2,3,4,5,6,7,8,9,10,20,30,40,50,60,70,80,90,100,200,300,400,500,600,700,800,900,1000,2000,3000,4000,5000,6000,7000,8000,9000], "tickSize": {"condition": {"test": "datum.value == 1 || datum.value == 10 || datum.value == 100 || datum.value == 1000", "value": 20}, "value": 10}, "labelExpr": "datum.value == 1 ? '10⁰' : datum.value == 10 ? '10¹' : datum.value == 100 ? '10²' : datum.value == 1000 ? '10³' : ''", "labelPadding": 25, "labelBaseline": "alphabetic", "labelAlign": "center", "labelOffset": -3, "labelFont": "DejaVu Sans Mono", "labelFontSize": 24, "labelFontWeight": "bold", "labelColor": "black", "labelOverlap": false, "labelBound": false, "labelFlush": false, "title": "FL2", "titleFont": "DejaVu Sans Mono", "titleFontSize": 24, "titleFontWeight": "bold", "titleColor": "black", "titleBaseline": "alphabetic", "titleAlign": "center", "tickWidth": 2, "tickColor": "black", "domainWidth": 3, "domainColor": "black", "grid": false}},
    "y": {"field": "y", "type": "quantitative", "scale": {"domain": [0, 233.1], "range": [400, 6]},
      "axis": {"offset": -35, "values": [0,50,100,150,200], "labels": false, "title": null, "tickSize": 11, "tickWidth": 2, "tickColor": "black", "domainWidth": 2.5, "domainColor": "black", "grid": false}},
    "strokeDash": {"field": "s", "type": "nominal", "scale": {"domain": ["CONTROL","OX20","UTR-1","TNF/MUT"], "range": [[1,0],[2.5,12],[1.5,2.5],[9,11]]}, "legend": {"title": null, "orient": "none"}},
    "strokeWidth": {"field": "s", "type": "nominal", "scale": {"domain": ["CONTROL","OX20","UTR-1","TNF/MUT"], "range": [2.6,2,1.6,2]}, "legend": null}
   }}
 ]},
 {"spacing": 0, "resolve": {"scale": {"x": "independent", "y": "independent"}}, "vconcat": [
  {"spacing": 10.5, "bounds": "flush", "resolve": {"scale": {"x": "independent", "y": "independent"}}, "hconcat": [
   {"width": 591, "height": 490, "view": {"stroke": "black", "strokeWidth": 3},
    "title": {"text": "MUTEIN III", "anchor": "end", "frame": "group", "orient": "top", "offset": -92.2, "dx": -61, "baseline": "alphabetic", "font": "Liberation Serif", "fontSize": 35, "fontWeight": "normal", "color": "black"},
    "data": {"name": "curves"}, "transform": [{"filter": "datum.p == 'III'"}],
    "resolve": {"axis": {"y": "independent"}},
    "layer": [
     {"mark": {"type": "line", "stroke": "black", "strokeJoin": "round"},
      "encoding": {
       "x": {"field": "x", "type": "quantitative", "scale": {"type": "log", "domain": [0.83, 10000], "range": [23.2, 587.6]},
         "axis": {"offset": -78.3, "titleX": 320, "titleY": 72, "values": [1,2,3,4,5,6,7,8,9,10,20,30,40,50,60,70,80,90,100,200,300,400,500,600,700,800,900,1000,2000,3000,4000,5000,6000,7000,8000,9000], "tickSize": {"condition": {"test": "datum.value == 1 || datum.value == 10 || datum.value == 100 || datum.value == 1000", "value": 20}, "value": 10}, "labelExpr": "datum.value == 1 ? '10⁰' : datum.value == 10 ? '10¹' : datum.value == 100 ? '10²' : datum.value == 1000 ? '10³' : ''", "labelPadding": 24, "labelBaseline": "alphabetic", "labelAlign": "center", "labelOffset": -3, "labelFont": "DejaVu Sans Mono", "labelFontSize": 24, "labelFontWeight": "bold", "labelColor": "black", "labelOverlap": false, "labelBound": false, "labelFlush": false, "title": "FL2", "titleFont": "DejaVu Sans Mono", "titleFontSize": 24, "titleFontWeight": "bold", "titleColor": "black", "titleBaseline": "alphabetic", "titleAlign": "center", "tickWidth": 2, "tickColor": "black", "domainWidth": 3, "domainColor": "black", "grid": false}},
       "y": {"field": "y", "type": "quantitative", "scale": {"domain": [0, 234.2], "range": [411.7, 15]},
         "axis": {"offset": -34.4, "values": [0,50,100,150,200], "labels": false, "title": null, "tickSize": 11, "tickWidth": 2, "tickColor": "black", "domainWidth": 2.5, "domainColor": "black", "grid": false}},
       "strokeDash": {"field": "s", "type": "nominal", "scale": {"domain": ["CONTROL","OX20","UTR-1","TNF/MUT"], "range": [[1,0],[2.5,12],[1.5,2.5],[9,11]]}, "legend": {"title": null, "orient": "none"}},
       "strokeWidth": {"field": "s", "type": "nominal", "scale": {"domain": ["CONTROL","OX20","UTR-1","TNF/MUT"], "range": [2.6,2,1.6,2]}, "legend": null}
      }},
     {"mark": {"type": "line", "opacity": 0},
      "encoding": {
       "x": {"field": "x", "type": "quantitative", "scale": {"type": "log", "domain": [0.83, 10000], "range": [23.2, 587.6]}},
       "y": {"field": "y", "type": "quantitative", "scale": {"domain": [0, 234.2], "range": [411.7, 15]}, "axis": {"orient": "right", "offset": -12, "ticks": false, "labels": false, "title": null, "domainWidth": 2, "domainColor": "black", "grid": false}}
      }}
    ]},
   {"width": 584, "height": 491, "view": {"stroke": "black", "strokeWidth": 3},
    "title": {"text": "MUTEIN IV", "anchor": "end", "frame": "group", "orient": "top", "offset": -83.8, "dx": -45.4, "baseline": "alphabetic", "font": "Liberation Serif", "fontSize": 35, "fontWeight": "normal", "color": "black"},
    "data": {"name": "curves"}, "transform": [{"filter": "datum.p == 'IV'"}],
    "mark": {"type": "line", "stroke": "black", "strokeJoin": "round"},
    "encoding": {
     "x": {"field": "x", "type": "quantitative", "scale": {"type": "log", "domain": [0.83, 10000], "range": [26.9, 584.8]},
       "axis": {"offset": -85, "titleX": 321.4, "titleY": 72, "values": [1,2,3,4,5,6,7,8,9,10,20,30,40,50,60,70,80,90,100,200,300,400,500,600,700,800,900,1000,2000,3000,4000,5000,6000,7000,8000,9000], "tickSize": {"condition": {"test": "datum.value == 1 || datum.value == 10 || datum.value == 100 || datum.value == 1000", "value": 20}, "value": 10}, "labelExpr": "datum.value == 1 ? '10⁰' : datum.value == 10 ? '10¹' : datum.value == 100 ? '10²' : datum.value == 1000 ? '10³' : ''", "labelPadding": 25, "labelBaseline": "alphabetic", "labelAlign": "center", "labelOffset": -3, "labelFont": "DejaVu Sans Mono", "labelFontSize": 24, "labelFontWeight": "bold", "labelColor": "black", "labelOverlap": false, "labelBound": false, "labelFlush": false, "title": "FL2", "titleFont": "DejaVu Sans Mono", "titleFontSize": 24, "titleFontWeight": "bold", "titleColor": "black", "titleBaseline": "alphabetic", "titleAlign": "center", "tickWidth": 2, "tickColor": "black", "domainWidth": 3, "domainColor": "black", "grid": false}},
     "y": {"field": "y", "type": "quantitative", "scale": {"domain": [0, 238.2], "range": [406, 4]},
       "axis": {"offset": -38, "values": [0,50,100,150,200], "labels": false, "title": null, "tickSize": 11, "tickWidth": 2, "tickColor": "black", "domainWidth": 2.5, "domainColor": "black", "grid": false}},
     "strokeDash": {"field": "s", "type": "nominal", "scale": {"domain": ["CONTROL","OX20","UTR-1","TNF/MUT"], "range": [[1,0],[2.5,12],[1.5,2.5],[9,11]]}, "legend": {"title": null, "orient": "none"}},
     "strokeWidth": {"field": "s", "type": "nominal", "scale": {"domain": ["CONTROL","OX20","UTR-1","TNF/MUT"], "range": [2.6,2,1.6,2]}, "legend": null}
    }}
  ]},
  {"spacing": 10, "bounds": "flush", "resolve": {"scale": {"x": "independent", "y": "independent"}}, "hconcat": [
   {"width": 1, "height": 476, "data": {"values": [{"a": 0}]}, "mark": {"type": "text", "text": ""}},
   {"width": 583, "height": 476, "view": {"stroke": "black", "strokeWidth": 3},
    "title": {"text": "MUTEIN V", "anchor": "end", "frame": "group", "orient": "top", "offset": -101.5, "dx": -58, "baseline": "alphabetic", "font": "Liberation Serif", "fontSize": 35, "fontWeight": "normal", "color": "black"},
    "data": {"name": "curves"}, "transform": [{"filter": "datum.p == 'V'"}],
    "mark": {"type": "line", "stroke": "black", "strokeJoin": "round"},
    "encoding": {
     "x": {"field": "x", "type": "quantitative", "scale": {"type": "log", "domain": [0.83, 10000], "range": [16.4, 577.9]},
       "axis": {"offset": -81.3, "titleX": 312.7, "titleY": 72, "values": [1,2,3,4,5,6,7,8,9,10,20,30,40,50,60,70,80,90,100,200,300,400,500,600,700,800,900,1000,2000,3000,4000,5000,6000,7000,8000,9000], "tickSize": {"condition": {"test": "datum.value == 1 || datum.value == 10 || datum.value == 100 || datum.value == 1000", "value": 20}, "value": 10}, "labelExpr": "datum.value == 1 ? '10⁰' : datum.value == 10 ? '10¹' : datum.value == 100 ? '10²' : datum.value == 1000 ? '10³' : ''", "labelPadding": 25, "labelBaseline": "alphabetic", "labelAlign": "center", "labelOffset": -3, "labelFont": "DejaVu Sans Mono", "labelFontSize": 24, "labelFontWeight": "bold", "labelColor": "black", "labelOverlap": false, "labelBound": false, "labelFlush": false, "title": "FL2", "titleFont": "DejaVu Sans Mono", "titleFontSize": 24, "titleFontWeight": "bold", "titleColor": "black", "titleBaseline": "alphabetic", "titleAlign": "center", "tickWidth": 2, "tickColor": "black", "domainWidth": 3, "domainColor": "black", "grid": false}},
     "y": {"field": "y", "type": "quantitative", "scale": {"domain": [0, 232], "range": [394.7, 4]},
       "axis": {"offset": -27.5, "values": [0,50,100,150,200], "labels": false, "title": null, "tickSize": 11, "tickWidth": 2, "tickColor": "black", "domainWidth": 2.5, "domainColor": "black", "grid": false}},
     "strokeDash": {"field": "s", "type": "nominal", "scale": {"domain": ["CONTROL","OX20","UTR-1","TNF/MUT"], "range": [[1,0],[2.5,12],[1.5,2.5],[9,11]]}, "legend": {"title": null, "orient": "none"}},
     "strokeWidth": {"field": "s", "type": "nominal", "scale": {"domain": ["CONTROL","OX20","UTR-1","TNF/MUT"], "range": [2.6,2,1.6,2]}, "legend": null}
    }},
   {"width": 584, "height": 479, "view": {"stroke": "black", "strokeWidth": 3},
    "title": {"text": "MUTEIN VI", "anchor": "end", "frame": "group", "orient": "top", "offset": -99.5, "dx": -51, "baseline": "alphabetic", "font": "Liberation Serif", "fontSize": 35, "fontWeight": "normal", "color": "black"},
    "data": {"name": "curves"}, "transform": [{"filter": "datum.p == 'VI'"}],
    "mark": {"type": "line", "stroke": "black", "strokeJoin": "round"},
    "encoding": {
     "x": {"field": "x", "type": "quantitative", "scale": {"type": "log", "domain": [0.83, 10000], "range": [23.9, 581.8]},
       "axis": {"offset": -85, "titleX": 316.4, "titleY": 73, "values": [1,2,3,4,5,6,7,8,9,10,20,30,40,50,60,70,80,90,100,200,300,400,500,600,700,800,900,1000,2000,3000,4000,5000,6000,7000,8000,9000], "tickSize": {"condition": {"test": "datum.value == 1 || datum.value == 10 || datum.value == 100 || datum.value == 1000", "value": 20}, "value": 10}, "labelExpr": "datum.value == 1 ? '10⁰' : datum.value == 10 ? '10¹' : datum.value == 100 ? '10²' : datum.value == 1000 ? '10³' : ''", "labelPadding": 25, "labelBaseline": "alphabetic", "labelAlign": "center", "labelOffset": -3, "labelFont": "DejaVu Sans Mono", "labelFontSize": 24, "labelFontWeight": "bold", "labelColor": "black", "labelOverlap": false, "labelBound": false, "labelFlush": false, "title": "FL2", "titleFont": "DejaVu Sans Mono", "titleFontSize": 24, "titleFontWeight": "bold", "titleColor": "black", "titleBaseline": "alphabetic", "titleAlign": "center", "tickWidth": 2, "tickColor": "black", "domainWidth": 3, "domainColor": "black", "grid": false}},
     "y": {"field": "y", "type": "quantitative", "scale": {"domain": [0, 229], "range": [394, 7]},
       "axis": {"offset": -35, "values": [0,50,100,150,200], "labels": false, "title": null, "tickSize": 11, "tickWidth": 2, "tickColor": "black", "domainWidth": 2.5, "domainColor": "black", "grid": false}},
     "strokeDash": {"field": "s", "type": "nominal", "scale": {"domain": ["CONTROL","OX20","UTR-1","TNF/MUT"], "range": [[1,0],[2.5,12],[1.5,2.5],[9,11]]}, "legend": {"title": null, "orient": "none"}},
     "strokeWidth": {"field": "s", "type": "nominal", "scale": {"domain": ["CONTROL","OX20","UTR-1","TNF/MUT"], "range": [2.6,2,1.6,2]}, "legend": null}
    }}
  ]}
 ]}
]
}
